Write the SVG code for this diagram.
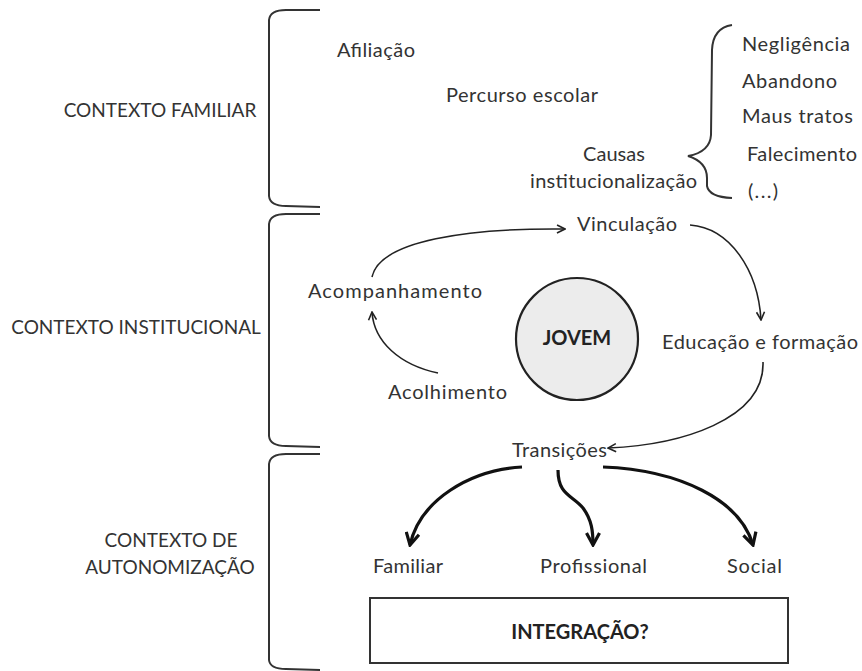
<svg xmlns="http://www.w3.org/2000/svg" width="862" height="671" viewBox="0 0 862 671">
<style>
text{font-family:Lato,"Open Sans","Liberation Sans",sans-serif;font-size:20px;fill:#333}
.c{font-size:19px}
.b{font-weight:bold;fill:#222}
.m{text-anchor:middle}
.br{fill:none;stroke:#333;stroke-width:2}
.thin{fill:none;stroke:#222;stroke-width:1.6}
.thick{fill:none;stroke:#111;stroke-width:3.2}
</style>
<defs>
<marker id="ah" markerUnits="userSpaceOnUse" viewBox="0 0 10 10" refX="9" refY="5" markerWidth="10" markerHeight="10" orient="auto">
<path d="M1,1 L9,5 L1,9" fill="none" stroke="#222" stroke-width="1.6"/>
</marker>
<marker id="ahb" markerUnits="userSpaceOnUse" viewBox="0 0 16 16" refX="14" refY="8" markerWidth="16" markerHeight="16" orient="auto">
<path d="M2,1.5 L14,8 L2,14.5" fill="none" stroke="#111" stroke-width="3.2"/>
</marker>
</defs>
<g id="brackets">
<path class="br" d="M320,10 L286,10 Q270,10 269,20 L269,196 Q270,206 286,206 L320,207"/>
<path class="br" d="M320,214 L286,214 Q270,214 269,224 L269,436 Q270,446 286,446 L320,447"/>
<path class="br" d="M320,454 L286,454 Q270,454 269,464 L269,660 Q270,669 286,669 L320,670"/>
<path class="br" d="M732,25 Q713,28 712,50 L711,135 Q710,152 688,156 Q707,162 707,178 L707,186 Q709,197 732,198"/>
</g>
<g id="labels-left">
<text class="m c" x="160" y="117">CONTEXTO FAMILIAR</text>
<text class="m c" x="136" y="334">CONTEXTO INSTITUCIONAL</text>
<text class="m c" x="171" y="547">CONTEXTO DE</text>
<text class="m c" x="170" y="574">AUTONOMIZAÇÃO</text>
</g>
<g id="familiar">
<text id="afiliacao" x="337" y="57" textLength="78">Afiliação</text>
<text id="percurso" x="446" y="102" textLength="152">Percurso escolar</text>
<g id="causas"><text x="583" y="161" textLength="62">Causas</text><text x="530" y="188" textLength="167">institucionalização</text></g>
<g id="lista">
<text x="742" y="51" textLength="108">Negligência</text>
<text x="742" y="88" textLength="95">Abandono</text>
<text x="742" y="123" textLength="111">Maus tratos</text>
<text x="747" y="161" textLength="110">Falecimento</text>
<text x="748" y="198" textLength="30">(...)</text>
</g>
</g>
<g id="jovem"><circle cx="577" cy="339" r="61" fill="#ececec" stroke="#222" stroke-width="2.2"/><text class="m b" x="577" y="345">JOVEM</text></g>
<g id="vinculacao"><text x="577" y="231" textLength="100">Vinculação</text></g>
<g id="acompanhamento"><text x="308" y="298" textLength="174">Acompanhamento</text></g>
<g id="educacao"><text x="662" y="349" textLength="196">Educação e formação</text></g>
<g id="acolhimento"><text x="388" y="399" textLength="119">Acolhimento</text></g>
<g id="transicoes"><text x="512" y="457" textLength="95">Transições</text></g>
<g id="familiar-out"><text x="373" y="573" textLength="70">Familiar</text></g>
<g id="profissional"><text x="540" y="573" textLength="107">Profissional</text></g>
<g id="social"><text x="727" y="573" textLength="55">Social</text></g>
<g id="integracao"><rect x="370" y="598" width="418" height="65" fill="#fff" stroke="#333" stroke-width="2"/><text class="m b" x="580" y="639">INTEGRAÇÃO?</text></g>
<g id="connectors">
<path class="thin" marker-end="url(#ah)" d="M372,277 C380,240 470,228 565,229"/>
<path class="thin" marker-end="url(#ah)" d="M438,373 C400,365 374,342 372,312"/>
<path class="thin" marker-end="url(#ah)" d="M690,225 C730,228 758,270 761,320"/>
<path class="thin" marker-end="url(#ah)" d="M763,362 C765,420 680,445 608,448"/>
<path class="thick" marker-end="url(#ahb)" d="M522,467 C470,470 420,500 410,545"/>
<path class="thick" marker-end="url(#ahb)" d="M558,470 C558,495 572,495 583,508 C592,520 593,532 593,545"/>
<path class="thick" marker-end="url(#ahb)" d="M603,467 C680,470 740,500 753,545"/>
</g>
</svg>
